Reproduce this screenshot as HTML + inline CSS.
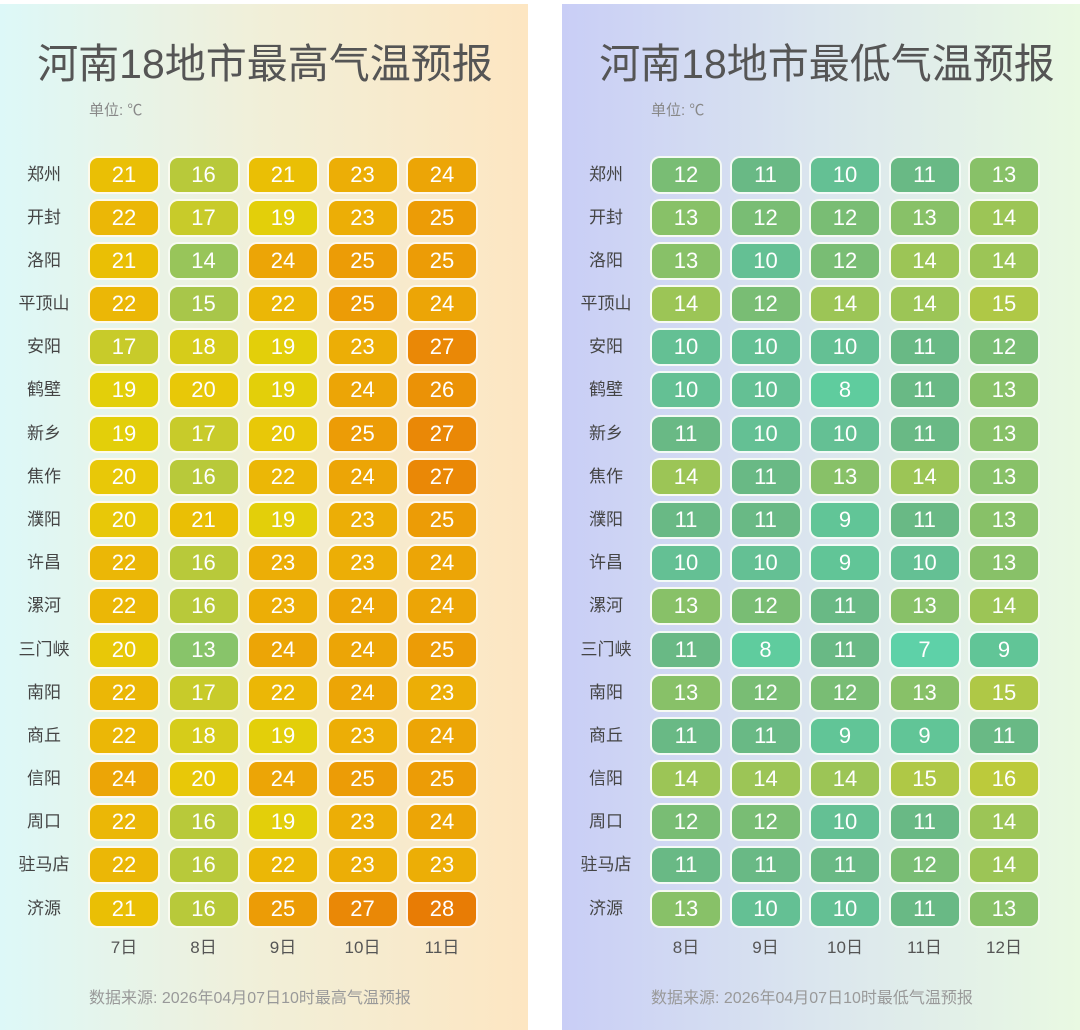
<!DOCTYPE html>
<html><head><meta charset="utf-8"><style>
*{margin:0;padding:0;box-sizing:border-box}
body{width:1080px;height:1030px;background:#fff;position:relative;overflow:hidden;font-family:"Liberation Sans","Noto Sans CJK SC",sans-serif}
.p{position:absolute;top:4px;height:1026px}
.L{left:0;width:528px;background:linear-gradient(90deg,#ddf8f8,#f1efd8 50%,#fde6c2)}
.R{left:562px;width:518px;background:linear-gradient(90deg,#c9cef6,#dbe6ee 50%,#e9f9e2)}
.t{position:absolute;left:0;width:530px;top:32px;text-align:center;font-size:41px;color:#555;line-height:56px}
.u{position:absolute;left:89px;top:95px;font-size:15px;color:#888}
.r{position:absolute;left:0;height:38px;display:flex}
.r b{position:absolute;left:0;width:88px;text-align:center;font-weight:normal;font-size:17px;color:#444;line-height:38px}
.r i{font-style:normal;display:block;flex:none;width:72px;height:38px;margin-right:7.5px;border:2px solid rgba(255,255,255,.92);border-radius:10px;color:#fff;font-size:22px;text-align:center;line-height:34px}
.r i:first-of-type{margin-left:88px}
.d{position:absolute;top:929px;left:88px;display:flex}
.d span{flex:none;width:72px;margin-right:7.5px;text-align:center;font-size:17px;color:#555}
.s{position:absolute;left:89px;top:980px;font-size:16px;color:#999}
.h13{background:#88c46a}.h14{background:#98c55a}.h15{background:#a8c64a}.h16{background:#b8c93a}.h17{background:#c8cb2a}.h18{background:#d6cc1a}.h19{background:#e3cf0a}.h20{background:#e8c808}.h21{background:#eabf05}.h22{background:#ebb706}.h23{background:#ecae06}.h24{background:#eca506}.h25{background:#ec9c06}.h26{background:#eb9206}.h27{background:#ea8806}.h28{background:#e87c05}
.m7{background:#5ed1a8}.m8{background:#5fcc9e}.m9{background:#61c597}.m10{background:#64c094}.m11{background:#69b985}.m12{background:#79bd74}.m13{background:#88c168}.m14{background:#9cc556}.m15{background:#afc846}.m16{background:#bcca3b}
</style></head><body>
<div class="p L">
<div class="t">河南18地市最高气温预报</div>
<div class="u">单位: ℃</div>
<div class="r" style="top:151.5px"><b>郑州</b><i class="h21">21</i><i class="h16">16</i><i class="h21">21</i><i class="h23">23</i><i class="h24">24</i></div>
<div class="r" style="top:194.7px"><b>开封</b><i class="h22">22</i><i class="h17">17</i><i class="h19">19</i><i class="h23">23</i><i class="h25">25</i></div>
<div class="r" style="top:237.9px"><b>洛阳</b><i class="h21">21</i><i class="h14">14</i><i class="h24">24</i><i class="h25">25</i><i class="h25">25</i></div>
<div class="r" style="top:281px"><b>平顶山</b><i class="h22">22</i><i class="h15">15</i><i class="h22">22</i><i class="h25">25</i><i class="h24">24</i></div>
<div class="r" style="top:324.2px"><b>安阳</b><i class="h17">17</i><i class="h18">18</i><i class="h19">19</i><i class="h23">23</i><i class="h27">27</i></div>
<div class="r" style="top:367.4px"><b>鹤壁</b><i class="h19">19</i><i class="h20">20</i><i class="h19">19</i><i class="h24">24</i><i class="h26">26</i></div>
<div class="r" style="top:410.6px"><b>新乡</b><i class="h19">19</i><i class="h17">17</i><i class="h20">20</i><i class="h25">25</i><i class="h27">27</i></div>
<div class="r" style="top:453.8px"><b>焦作</b><i class="h20">20</i><i class="h16">16</i><i class="h22">22</i><i class="h24">24</i><i class="h27">27</i></div>
<div class="r" style="top:497px"><b>濮阳</b><i class="h20">20</i><i class="h21">21</i><i class="h19">19</i><i class="h23">23</i><i class="h25">25</i></div>
<div class="r" style="top:540.1px"><b>许昌</b><i class="h22">22</i><i class="h16">16</i><i class="h23">23</i><i class="h23">23</i><i class="h24">24</i></div>
<div class="r" style="top:583.3px"><b>漯河</b><i class="h22">22</i><i class="h16">16</i><i class="h23">23</i><i class="h24">24</i><i class="h24">24</i></div>
<div class="r" style="top:626.5px"><b>三门峡</b><i class="h20">20</i><i class="h13">13</i><i class="h24">24</i><i class="h24">24</i><i class="h25">25</i></div>
<div class="r" style="top:669.7px"><b>南阳</b><i class="h22">22</i><i class="h17">17</i><i class="h22">22</i><i class="h24">24</i><i class="h23">23</i></div>
<div class="r" style="top:712.9px"><b>商丘</b><i class="h22">22</i><i class="h18">18</i><i class="h19">19</i><i class="h23">23</i><i class="h24">24</i></div>
<div class="r" style="top:756px"><b>信阳</b><i class="h24">24</i><i class="h20">20</i><i class="h24">24</i><i class="h25">25</i><i class="h25">25</i></div>
<div class="r" style="top:799.2px"><b>周口</b><i class="h22">22</i><i class="h16">16</i><i class="h19">19</i><i class="h23">23</i><i class="h24">24</i></div>
<div class="r" style="top:842.4px"><b>驻马店</b><i class="h22">22</i><i class="h16">16</i><i class="h22">22</i><i class="h23">23</i><i class="h23">23</i></div>
<div class="r" style="top:885.6px"><b>济源</b><i class="h21">21</i><i class="h16">16</i><i class="h25">25</i><i class="h27">27</i><i class="h28">28</i></div>
<div class="d"><span>7日</span><span>8日</span><span>9日</span><span>10日</span><span>11日</span></div>
<div class="s">数据来源: 2026年04月07日10时最高气温预报</div>
</div>
<div class="p R">
<div class="t">河南18地市最低气温预报</div>
<div class="u">单位: ℃</div>
<div class="r" style="top:151.5px"><b>郑州</b><i class="m12">12</i><i class="m11">11</i><i class="m10">10</i><i class="m11">11</i><i class="m13">13</i></div>
<div class="r" style="top:194.7px"><b>开封</b><i class="m13">13</i><i class="m12">12</i><i class="m12">12</i><i class="m13">13</i><i class="m14">14</i></div>
<div class="r" style="top:237.9px"><b>洛阳</b><i class="m13">13</i><i class="m10">10</i><i class="m12">12</i><i class="m14">14</i><i class="m14">14</i></div>
<div class="r" style="top:281px"><b>平顶山</b><i class="m14">14</i><i class="m12">12</i><i class="m14">14</i><i class="m14">14</i><i class="m15">15</i></div>
<div class="r" style="top:324.2px"><b>安阳</b><i class="m10">10</i><i class="m10">10</i><i class="m10">10</i><i class="m11">11</i><i class="m12">12</i></div>
<div class="r" style="top:367.4px"><b>鹤壁</b><i class="m10">10</i><i class="m10">10</i><i class="m8">8</i><i class="m11">11</i><i class="m13">13</i></div>
<div class="r" style="top:410.6px"><b>新乡</b><i class="m11">11</i><i class="m10">10</i><i class="m10">10</i><i class="m11">11</i><i class="m13">13</i></div>
<div class="r" style="top:453.8px"><b>焦作</b><i class="m14">14</i><i class="m11">11</i><i class="m13">13</i><i class="m14">14</i><i class="m13">13</i></div>
<div class="r" style="top:497px"><b>濮阳</b><i class="m11">11</i><i class="m11">11</i><i class="m9">9</i><i class="m11">11</i><i class="m13">13</i></div>
<div class="r" style="top:540.1px"><b>许昌</b><i class="m10">10</i><i class="m10">10</i><i class="m9">9</i><i class="m10">10</i><i class="m13">13</i></div>
<div class="r" style="top:583.3px"><b>漯河</b><i class="m13">13</i><i class="m12">12</i><i class="m11">11</i><i class="m13">13</i><i class="m14">14</i></div>
<div class="r" style="top:626.5px"><b>三门峡</b><i class="m11">11</i><i class="m8">8</i><i class="m11">11</i><i class="m7">7</i><i class="m9">9</i></div>
<div class="r" style="top:669.7px"><b>南阳</b><i class="m13">13</i><i class="m12">12</i><i class="m12">12</i><i class="m13">13</i><i class="m15">15</i></div>
<div class="r" style="top:712.9px"><b>商丘</b><i class="m11">11</i><i class="m11">11</i><i class="m9">9</i><i class="m9">9</i><i class="m11">11</i></div>
<div class="r" style="top:756px"><b>信阳</b><i class="m14">14</i><i class="m14">14</i><i class="m14">14</i><i class="m15">15</i><i class="m16">16</i></div>
<div class="r" style="top:799.2px"><b>周口</b><i class="m12">12</i><i class="m12">12</i><i class="m10">10</i><i class="m11">11</i><i class="m14">14</i></div>
<div class="r" style="top:842.4px"><b>驻马店</b><i class="m11">11</i><i class="m11">11</i><i class="m11">11</i><i class="m12">12</i><i class="m14">14</i></div>
<div class="r" style="top:885.6px"><b>济源</b><i class="m13">13</i><i class="m10">10</i><i class="m10">10</i><i class="m11">11</i><i class="m13">13</i></div>
<div class="d"><span>8日</span><span>9日</span><span>10日</span><span>11日</span><span>12日</span></div>
<div class="s">数据来源: 2026年04月07日10时最低气温预报</div>
</div>
</body></html>
